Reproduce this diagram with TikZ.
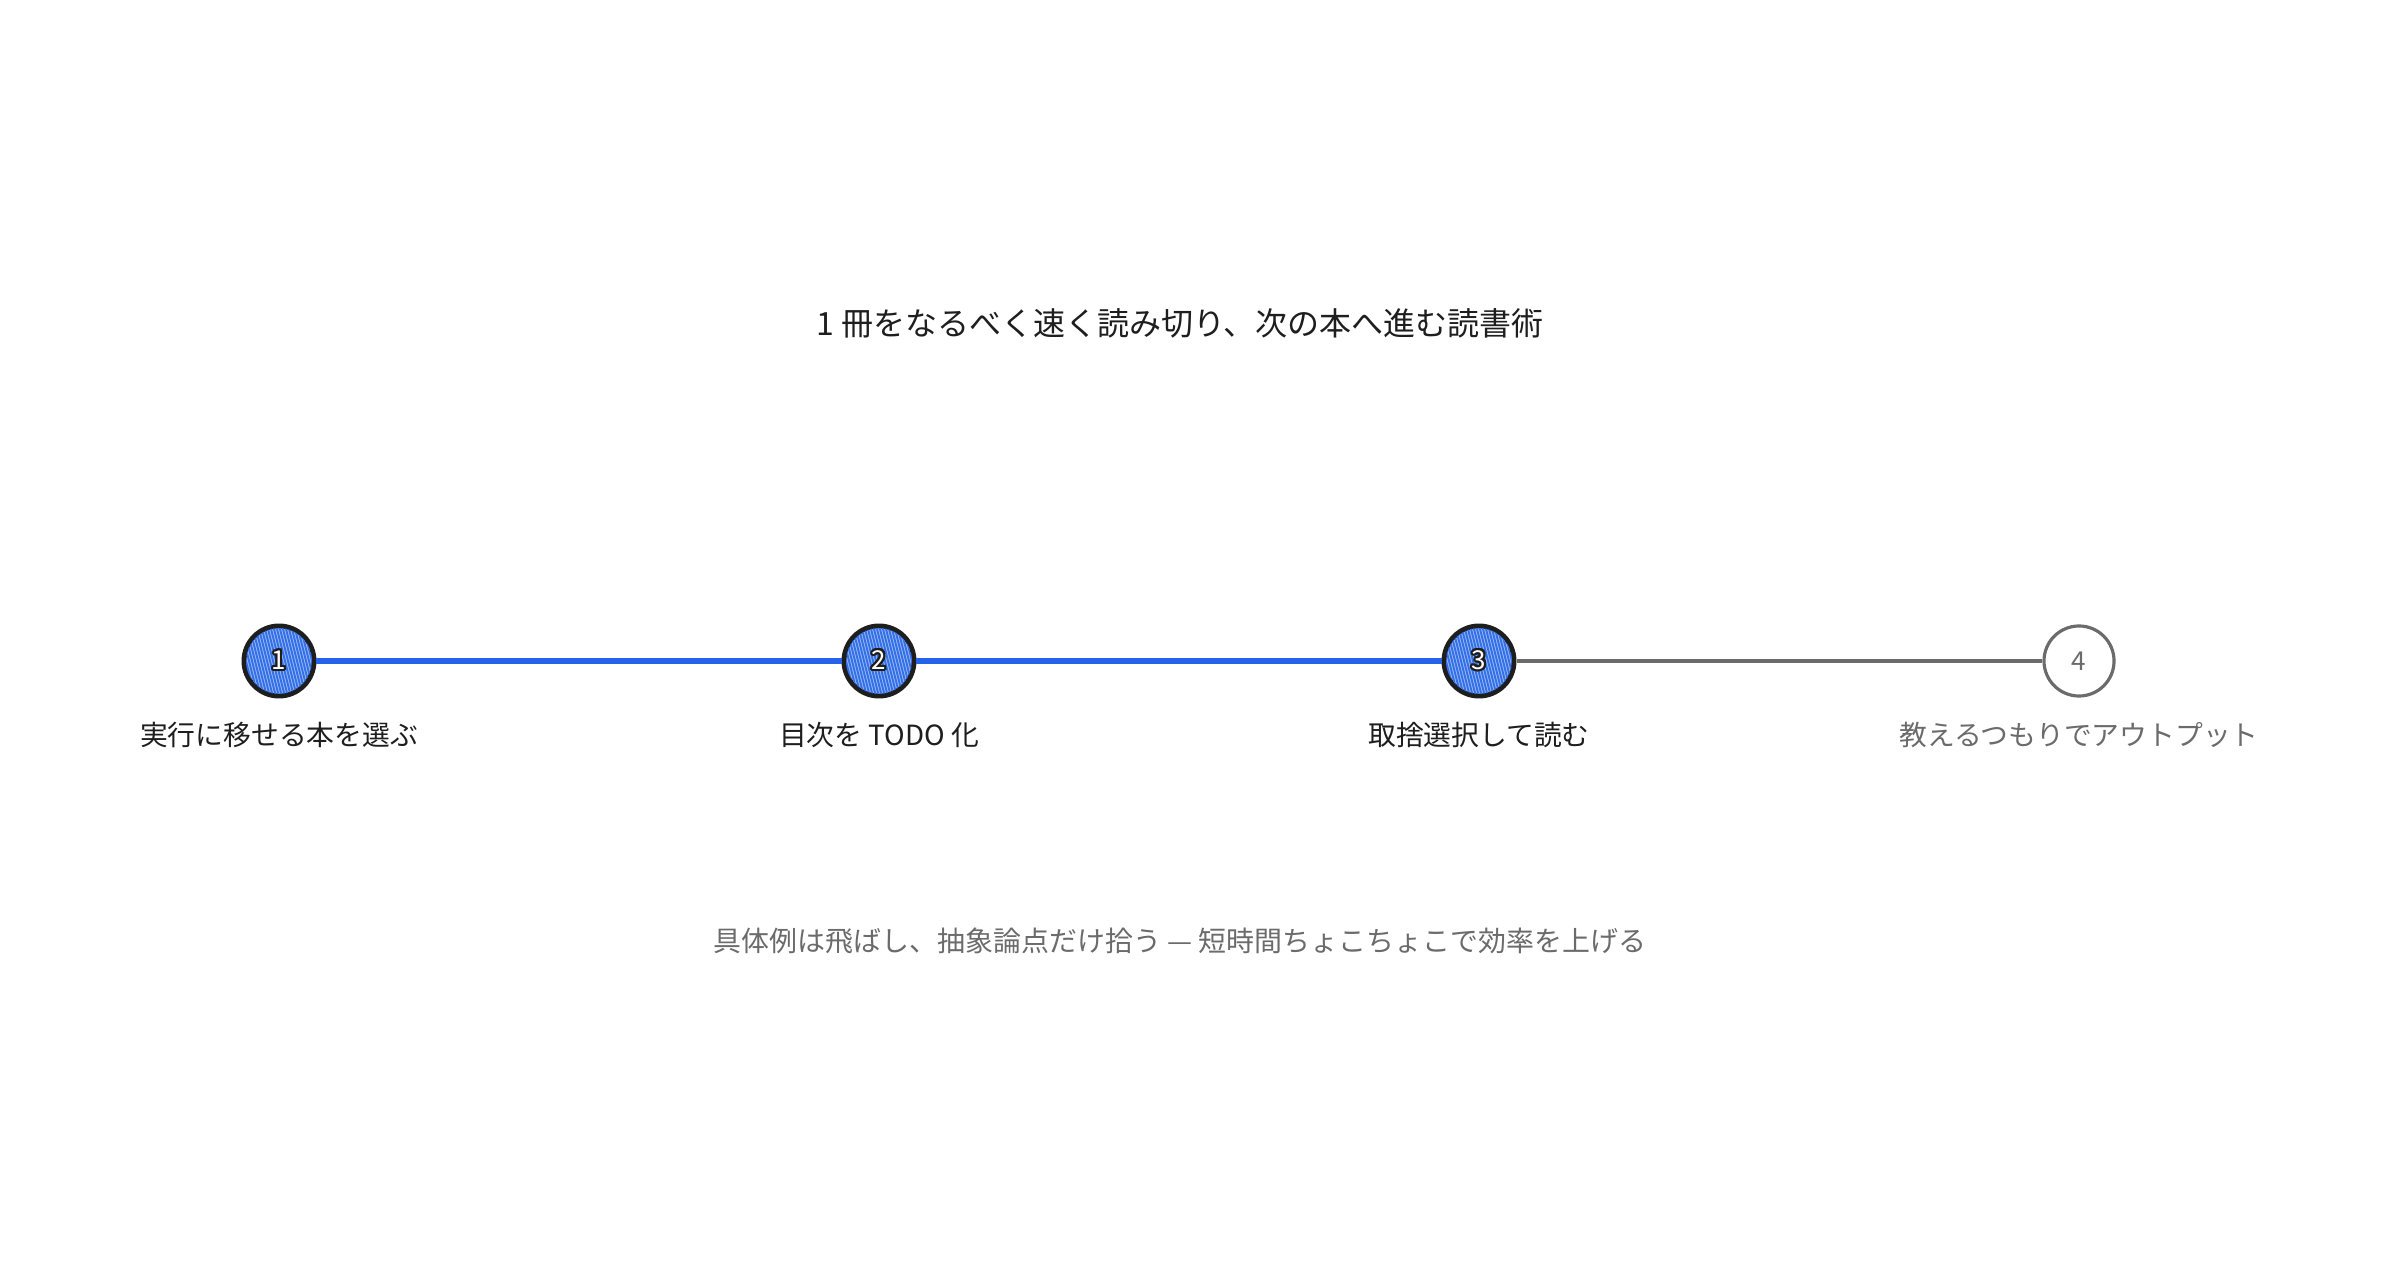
\documentclass[tikz,border=0pt]{standalone}
\usepackage{fontspec}
\setmainfont{Noto Sans CJK JP}
\usepackage[copies]{contour}
\contourlength{0.6pt}
\definecolor{ink}{HTML}{1E1E1E}
\definecolor{muted}{HTML}{6B6B6B}
\definecolor{doneblue}{HTML}{2563EB}
\definecolor{dotfill}{HTML}{9DBDF6}
\definecolor{hatch}{HTML}{3570E6}
\tikzset{
    donedot/.style={circle, draw=ink, line width=1.4pt, minimum size=0.7cm, inner sep=0pt, fill=dotfill},
    tododot/.style={circle, draw=muted, line width=0.9pt, minimum size=0.7cm, inner sep=0pt, fill=white,
        text=muted, font=\fontsize{7.4}{8}\selectfont},
    dotnum/.style={inner sep=0pt, font=\fontsize{7.4}{8}\selectfont},
    steplabel/.style={font=\fontsize{7.9}{9}\selectfont, text=ink},
    doneline/.style={doneblue, line width=1.5pt},
    todoline/.style={muted, line width=0.9pt}
}

\begin{document}
\begin{tikzpicture}[x=0.01cm, y=0.01cm]
    \fill[white] (0,0) rectangle (2400,1260);
    \useasboundingbox (0,0) rectangle (2400,1260);

    \node[font=\fontsize{9.1}{11}\selectfont, text=ink] (title) at (1180,937)
        {1 冊をなるべく速く読み切り、次の本へ進む読書術};

    % finished steps
    \foreach \i/\x/\txt in {1/279/実行に移せる本を選ぶ, 2/879/目次を TODO 化, 3/1479/取捨選択して読む}{
        \node[donedot] (s\i) at (\x,599) {};
        \begin{scope}
            \clip (s\i.center) circle[radius=33];
            \foreach \d in {-48,-45,...,48}{
                \draw[hatch, line width=0.55pt] ([xshift=\d*0.01cm-0.1cm, yshift=0.4cm]s\i.center)
                    -- ([xshift=\d*0.01cm+0.1cm, yshift=-0.4cm]s\i.center);
            }
        \end{scope}
        \node[dotnum] (n\i) at (s\i) {\contour{ink}{\textcolor{white}{\i}}};
        \node[steplabel] (l\i) at ([yshift=-0.74cm]s\i.center) {\txt};
    }

    % next step
    \node[tododot] (s4) at (2079,599) {4};
    \node[steplabel, text=muted] (l4) at ([yshift=-0.74cm]s4.center) {教えるつもりでアウトプット};

    \draw[doneline] (s1) -- (s2);
    \draw[doneline] (s2) -- (s3);
    \draw[todoline] (s3) -- (s4);

    \node[font=\fontsize{7.95}{9}\selectfont, text=muted] (note) at (1180,319)
        {具体例は飛ばし、抽象論点だけ拾う — 短時間ちょこちょこで効率を上げる};
\end{tikzpicture}
\end{document}
